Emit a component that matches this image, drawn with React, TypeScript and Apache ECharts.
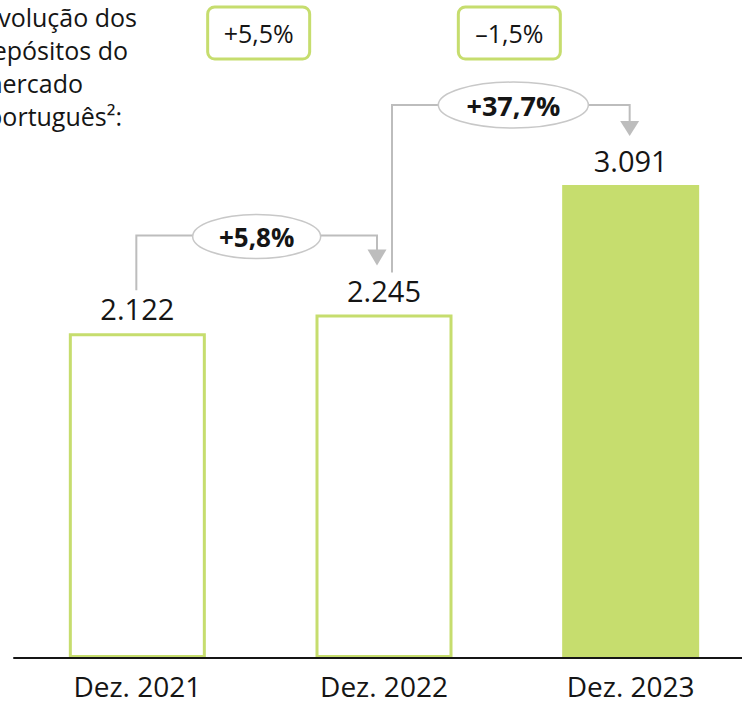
import React, { useEffect, useRef } from 'react';
import * as echarts from 'echarts';

const categories = ['Dez. 2021', 'Dez. 2022', 'Dez. 2023'];
const values = [2122, 2245, 3091];
const valueLabels = ['2.122', '2.245', '3.091'];
const growthLabels = ['+5,8%', '+37,7%'];
const marketLabels = ['+5,5%', '–1,5%'];
const titleLines = ['Evolução dos', 'depósitos do', 'mercado', 'português²:'];

const GREEN = '#c6dd6e';
const GRAY = '#bdbdbd';
const FONT = '"Open Sans", sans-serif';
const INK = '#151515';

function txt(text: string, x: number, y: number, size: number, weight: any, align: string = 'center') {
  return {
    type: 'text',
    x,
    y,
    z: 30,
    style: {
      text,
      fontSize: size,
      fontWeight: weight,
      fontFamily: FONT,
      fill: INK,
      align,
      verticalAlign: 'middle',
      textAlign: align,
      textVerticalAlign: 'middle',
    },
  };
}

export default function App() {
  const ref = useRef<HTMLDivElement>(null);
  useEffect(() => {
    if (!ref.current) return;
    const chart = echarts.init(ref.current, null, { renderer: 'svg' });
    chart.setOption({
      animation: false,
      grid: { left: 14, width: 740, top: 46, bottom: 46 },
      xAxis: {
        type: 'category',
        data: categories,
        z: 10,
        axisLine: { lineStyle: { color: INK, width: 2 } },
        axisTick: { show: false },
        axisLabel: { fontSize: 28, lineHeight: 28, color: INK, fontFamily: FONT, margin: 14 },
      },
      yAxis: { type: 'value', min: 0, max: 4000, show: false, splitLine: { show: false } },
      series: [
        {
          type: 'bar',
          barWidth: 137,
          data: values.map((v, i) => ({
            value: v,
            itemStyle:
              i < 2
                ? { color: '#ffffff', borderColor: GREEN, borderWidth: 3 }
                : { color: GREEN, borderWidth: 0 },
          })),
          label: {
            show: true,
            position: 'top',
            distance: 10,
            fontSize: 29,
            color: INK,
            fontFamily: FONT,
            formatter: (p: any) => valueLabels[p.dataIndex],
          },
        },
      ],
    });

    const pts = values.map((v, i) => chart.convertToPixel({ seriesIndex: 0 }, [i, v]) as number[]);
    const [x0, t0] = pts[0];
    const [x1, t1] = pts[1];
    const [x2, t2] = pts[2];
    const m01 = (x0 + x1) / 2;
    const m12 = (x1 + x2) / 2;

    const graphic: any[] = [];
    // title lines (cut at the left edge)
    const titleRight = [137, 128, 83, 122];
    titleLines.forEach((l, i) => {
      graphic.push(txt(l, titleRight[i], 17 + i * 33, 25, 'normal', 'right'));
    });

    // market boxes
    const boxCenters = [m01 - 2, m12 + 2];
    boxCenters.forEach((c, i) => {
      graphic.push({
        type: 'rect',
        z: 20,
        shape: { x: c - 51, y: 7, width: 102, height: 52, r: 7 },
        style: { fill: '#fff', stroke: GREEN, lineWidth: 3 },
      });
      graphic.push(txt(marketLabels[i], c, 33, 25, 'normal'));
    });

    // connector 1
    const h1 = t1 - 79;
    const ax1 = x1 - 7;
    graphic.push({
      type: 'polyline',
      z: 15,
      shape: { points: [[x0 - 1, t0 - 43], [x0 - 1, h1], [ax1, h1], [ax1, t1 - 63]] },
      style: { stroke: GRAY, lineWidth: 2, fill: null },
    });
    graphic.push({
      type: 'polygon',
      z: 15,
      shape: { points: [[ax1 - 9.5, t1 - 65], [ax1 + 9.5, t1 - 65], [ax1, t1 - 49]] },
      style: { fill: GRAY },
    });
    graphic.push({
      type: 'ellipse',
      z: 20,
      shape: { cx: m01 - 4, cy: h1 + 1, rx: 64, ry: 22 },
      style: { fill: '#fff', stroke: '#c8c8c8', lineWidth: 1.5 },
    });
    graphic.push(txt(growthLabels[0], m01 - 4, h1 + 1, 26, 'bold'));

    // connector 2
    const h2 = t2 - 80;
    const ax2 = x2 - 1;
    graphic.push({
      type: 'polyline',
      z: 15,
      shape: { points: [[x1 + 8, t1 - 42], [x1 + 8, h2], [ax2, h2], [ax2, t2 - 62]] },
      style: { stroke: GRAY, lineWidth: 2, fill: null },
    });
    graphic.push({
      type: 'polygon',
      z: 15,
      shape: { points: [[ax2 - 9.5, t2 - 64], [ax2 + 9.5, t2 - 64], [ax2, t2 - 49]] },
      style: { fill: GRAY },
    });
    graphic.push({
      type: 'ellipse',
      z: 20,
      shape: { cx: m12 + 6, cy: h2, rx: 75, ry: 23 },
      style: { fill: '#fff', stroke: '#c8c8c8', lineWidth: 1.5 },
    });
    graphic.push(txt(growthLabels[1], m12 + 6, h2, 27, 'bold'));

    chart.setOption({ graphic });

    return () => chart.dispose();
  }, []);

  return (
    <div style={{ position: 'fixed', left: 0, top: 0, width: 742, height: 704, overflow: 'hidden', background: '#fff' }}>
      <div ref={ref} style={{ position: 'absolute', left: 0, top: 0, width: 770, height: 704 }} />
    </div>
  );
}
